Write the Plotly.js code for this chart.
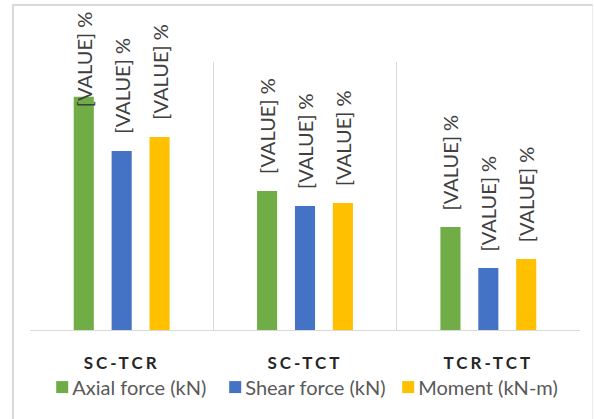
<!DOCTYPE html>
<html>
<head>
<meta charset="utf-8">
<script src="https://cdn.plot.ly/plotly-3.0.1.min.js"></script>
<style>
  body { margin: 0; background: #fff; }
  #wrap { position: relative; width: 594px; height: 419px; }
  #frame { position: absolute; left: 12px; top: 4px; width: 578px; height: 430px;
           border: 2px solid #d9d9d9; border-right: 1px solid #ececec; pointer-events: none; }
  #chart .xtick text { letter-spacing: 3px; }
  #chart .legend .scrollbox { clip-path: none !important; }
  #chart .legend .legendpoints { transform: translateX(10px); }
</style>
</head>
<body>
<div id="wrap">
  <div id="chart" style="width:594px;height:419px;"></div>
  <div id="frame"></div>
</div>
<script>
const categories = ["SC-TCR", "SC-TCT", "TCR-TCT"];
const seriesNames = ["Axial force (kN)", "Shear force (kN)", "Moment (kN-m)"];
const axialForce = [87.0, 51.9, 38.4];
const shearForce = [66.8, 46.3, 23.1];
const moment = [72.0, 47.4, 26.5];
const labelText = "[VALUE] %";

const colors = ["#70ad47", "#4472c4", "#ffc000"];
const seriesValues = [axialForce, shearForce, moment];
const offsets = [-38, 0, 38];
const yMax = 100;
const M = { l: 30, r: 14, t: 62, b: 89, autoexpand: false };
const H = 419;
const plotH = H - M.t - M.b;
const labelFont = 20;

// measure label length for keeping it inside the chart
const cv = document.createElement("canvas").getContext("2d");
cv.font = labelFont + "px Lato";
const labelLen = cv.measureText(labelText).width;

const traces = seriesValues.map((vals, i) => ({
  type: "bar",
  name: seriesNames[i],
  x: categories,
  y: vals,
  marker: { color: colors[i] },
  hoverinfo: "skip"
}));

const annotations = [];
seriesValues.forEach((vals, i) => {
  vals.forEach((v, j) => {
    const topPx = M.t + (1 - v / yMax) * plotH;
    const shift = Math.min(15, topPx - (14 + labelLen));
    annotations.push({
      x: categories[j], y: v, xref: "x", yref: "y",
      text: labelText, showarrow: false, textangle: -90,
      xanchor: "center", yanchor: "bottom",
      xshift: offsets[i], yshift: shift,
      font: { family: "Lato, sans-serif", size: labelFont, color: "#404040" }
    });
  });
});

const layout = {
  width: 594, height: H,
  margin: M,
  paper_bgcolor: "rgba(0,0,0,0)",
  plot_bgcolor: "#fff",
  barmode: "group",
  bargap: 0.38,
  bargroupgap: 0.47,
  showlegend: true,
  legend: {
    orientation: "h", x: 0.004, xanchor: "left", y: -0.213, yanchor: "middle",
    font: { family: "Lato, sans-serif", size: 20, color: "#595959" },
    itemwidth: 30, traceorder: "normal",
    entrywidth: 128, entrywidthmode: "pixels"
  },
  xaxis: {
    type: "category",
    tickson: "boundaries",
    showgrid: true, gridcolor: "#d9d9d9", gridwidth: 1,
    showline: true, linecolor: "#d9d9d9", linewidth: 1,
    ticks: "", ticklabelstandoff: 18,
    tickfont: { family: "Lato, sans-serif", size: 17, color: "#262626", weight: "bold" },
    range: [-0.5, 2.5], fixedrange: true
  },
  yaxis: {
    range: [0, yMax], visible: true, showgrid: false, showticklabels: false,
    zeroline: false, showline: false, ticks: "", fixedrange: true
  },
  annotations: annotations
};

Plotly.newPlot("chart", traces, layout, { displayModeBar: false, staticPlot: true });
</script>
</body>
</html>
